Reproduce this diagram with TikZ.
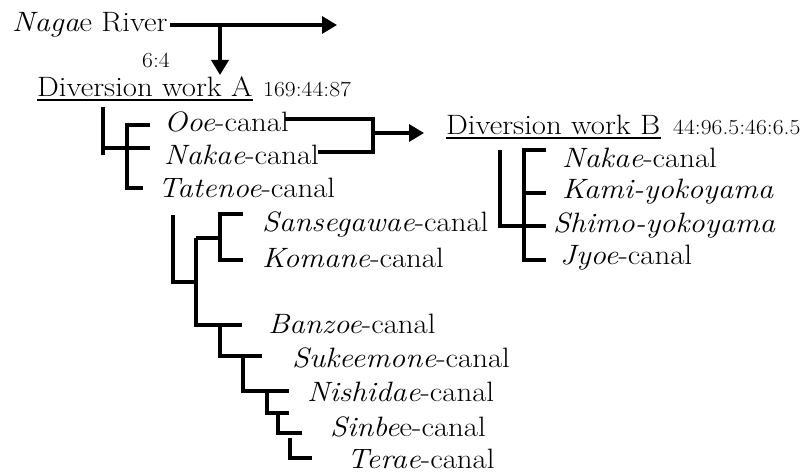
\documentclass[tikz,border=0pt]{standalone}
\usepackage{fontspec}
\setmainfont{Latin Modern Roman}[FakeStretch=1.1]
\usetikzlibrary{arrows.meta}
\begin{document}
\begin{tikzpicture}[x=1pt,y=-1pt,
  lbl/.style={anchor=base west,inner sep=0pt,font=\fontsize{28}{30}\selectfont},
  num/.style={anchor=base west,inner sep=0pt,font=\fontsize{21.5}{24}\selectfont},
  br/.style={line width=3.4pt,line join=miter},
  arr/.style={line width=3.4pt,-{Triangle[length=15pt,width=17pt]}},
  ul/.style={line width=1.4pt}]
\useasboundingbox (0,0) rectangle (806,473);

% texts
\node[lbl] (nag) at (12,32) {\textit{Naga}e River};
\node[num] (r64) at (142,68) {6:4};
\node[lbl] (dA) at (37,97) {Diversion work A};
\node[num] (nA) at (263,97) {169:44:87};
\node[lbl] (ooe) at (164,132) {\textit{Ooe}-canal};
\node[lbl] (nakA) at (164,165) {\textit{Nakae}-canal};
\node[lbl] (tat) at (158,198) {\textit{Tatenoe}-canal};
\node[lbl] (san) at (262,232) {\textit{Sansegawae}-canal};
\node[lbl] (kom) at (262,267) {\textit{Komane}-canal};
\node[lbl] (ban) at (268,333) {\textit{Banzoe}-canal};
\node[lbl] (suk) at (292,367) {\textit{Sukeemone}-canal};
\node[lbl] (nis) at (307,401) {\textit{Nishidae}-canal};
\node[lbl] (sin) at (330,436) {\textit{Sinbe}e-canal};
\node[lbl] (ter) at (347,468) {\textit{Terae}-canal};
\node[lbl] (dB) at (446,135) {Diversion work B};
\node[num] (nB) at (673,135) {44:96.5:46:6.5};
\node[lbl] (nakB) at (562,168) {\textit{Nakae}-canal};
\node[lbl] (kami) at (562,199) {\textit{Kami-yokoyama}};
\node[lbl] (shimo) at (553,233) {\textit{Shimo-yokoyama}};
\node[lbl] (jyoe) at (560,265) {\textit{Jyoe}-canal};

% underlines
\draw[ul] ([yshift=-2.5pt]dA.south west) -- ([yshift=-2.5pt]dA.south east);
\draw[ul] ([yshift=-2.5pt]dB.south west) -- ([yshift=-2.5pt]dB.south east);

% river arrows
\coordinate (rivEnd) at (337,25);
\coordinate (rivJ) at (220,25);
\draw[arr] (170,25) -- (rivEnd);
\draw[arr] (rivJ) -- (220,75);

% tree A
\draw[br] (103,107) -- (103,155);
\draw[br] (103,148) -- (127,148);
\draw[br] (150,125) -- (127,125) -- (127,188) -- (143,188);
\draw[br] (127,148) -- (150,148);

% bracket to B
\draw[br] (285,119) -- (373,119) -- (373,152) -- (318,152);
\draw[arr] (375,133) -- (424,133);

% tree B
\draw[br] (500,150) -- (500,226) -- (524,226);
\draw[br] (546,150) -- (524,150) -- (524,260) -- (546,260);
\draw[br] (524,193) -- (546,193);
\draw[br] (524,226) -- (546,226);

% Tatenoe subtree
\draw[br] (173,215) -- (173,282) -- (196,282);
\draw[br] (196,238) -- (196,327);
\draw[br] (196,238) -- (220,238);
\draw[br] (243,214) -- (220,214) -- (220,260) -- (243,260);
\draw[br] (196,325) -- (242,325);
\draw[br] (220,325) -- (220,356) -- (262,356);
\draw[br] (243,356) -- (243,391) -- (289,391);
\draw[br] (267,391) -- (267,413) -- (289,413);
\draw[br] (278,413) -- (278,433) -- (302,433);
\draw[br] (290,438) -- (290,458) -- (312,458);
\end{tikzpicture}
\end{document}
